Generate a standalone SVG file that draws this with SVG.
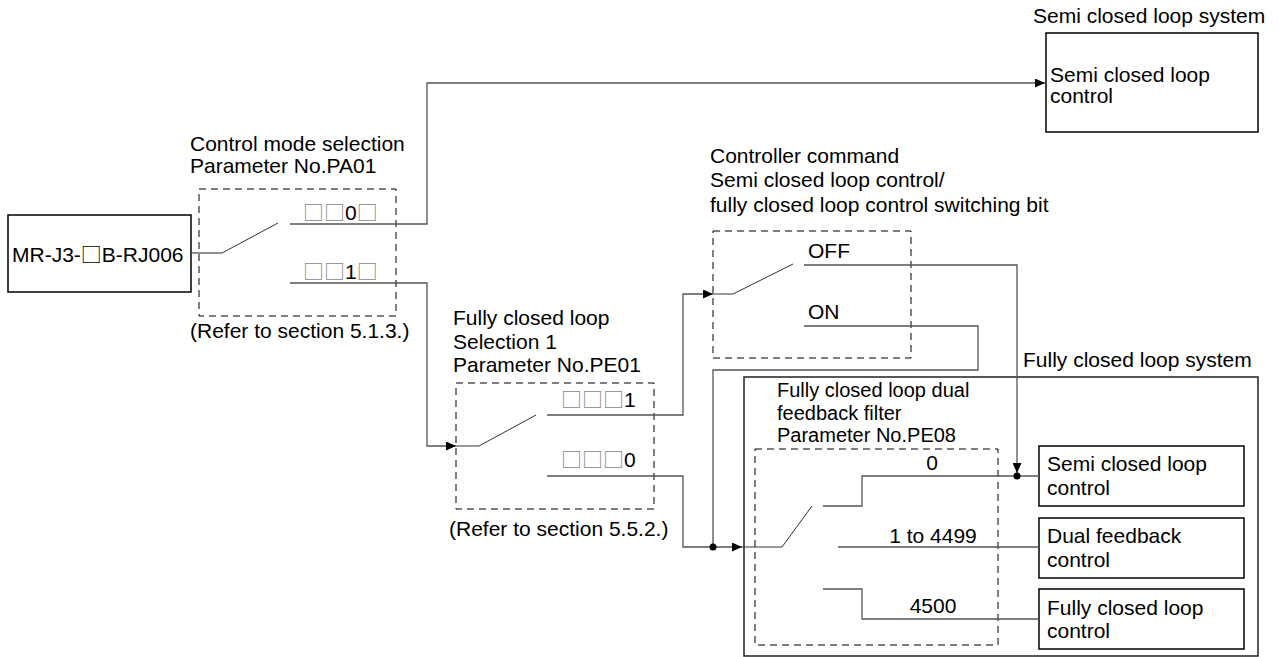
<svg xmlns="http://www.w3.org/2000/svg" width="1279" height="657" viewBox="0 0 1279 657">
<style>
text{font-family:"Liberation Sans",Arial,"Noto Sans CJK JP",sans-serif;font-size:21px;fill:#000}
.s20{font-size:20px}
.sq{font-family:"Noto Sans CJK JP","DejaVu Sans",sans-serif;fill:#888}
.sqk{font-family:"Noto Sans CJK JP","DejaVu Sans",sans-serif;fill:#000}
.box{fill:#fff;stroke:#000;stroke-width:1.5}
.dash{fill:none;stroke:#000;stroke-width:1;stroke-dasharray:7 5}
.ln{fill:none;stroke:#555;stroke-width:1.3}
.lv{fill:none;stroke:#333;stroke-width:1}
.mid{text-anchor:middle}
</style>
<defs>
<marker id="arr" markerUnits="userSpaceOnUse" markerWidth="11" markerHeight="9" refX="10" refY="4.5" orient="auto">
<path d="M0,0 L10,4.5 L0,9 z" fill="#000"/>
</marker>
</defs>
<rect width="1279" height="657" fill="#fff"/>

<g id="mr-j3">
<rect class="box" x="8" y="215" width="183" height="77"/>
<text x="12" y="262">MR-J3-<tspan class="sqk">□</tspan>B-RJ006</text>
</g>

<g id="pa01-switch">
<text x="190" y="151">Control mode selection</text>
<text x="190" y="173">Parameter No.PA01</text>
<rect class="dash" x="199" y="189" width="197" height="127"/>
<path class="lv" d="M222,253 L278,223"/>
<text x="303" y="220"><tspan class="sq">□□</tspan>0<tspan class="sq">□</tspan></text>
<text x="303" y="279"><tspan class="sq">□□</tspan>1<tspan class="sq">□</tspan></text>
<text x="190" y="338">(Refer to section 5.1.3.)</text>
</g>

<g id="pe01-switch">
<text x="453" y="325">Fully closed loop</text>
<text x="453" y="349">Selection 1</text>
<text x="453" y="372">Parameter No.PE01</text>
<rect class="dash" x="456" y="383" width="198" height="126"/>
<path class="lv" d="M456,446 H479 L536,415"/>
<text x="561" y="407"><tspan class="sq">□□□</tspan>1</text>
<text x="561" y="467"><tspan class="sq">□□□</tspan>0</text>
<text x="449" y="536">(Refer to section 5.5.2.)</text>
</g>

<g id="controller-switch">
<text x="710" y="163">Controller command</text>
<text x="710" y="187">Semi closed loop control/</text>
<text x="710" y="212">fully closed loop control switching bit</text>
<rect class="dash" x="713" y="231" width="198" height="127"/>
<path class="lv" d="M713,294 H733 L793,264"/>
<text x="808" y="258">OFF</text>
<text x="808" y="319">ON</text>
</g>

<g id="semi-system">
<text x="1033" y="23">Semi closed loop system</text>
<rect class="box" x="1046" y="33" width="212" height="99"/>
<text x="1050" y="82">Semi closed loop</text>
<text x="1050" y="103">control</text>
</g>

<g id="fully-system">
<text x="1023" y="367">Fully closed loop system</text>
<rect fill="none" stroke="#222" stroke-width="1.5" x="744" y="377" width="514" height="279"/>
</g>

<g id="pe08-switch">
<text class="s20" x="777" y="397">Fully closed loop dual</text>
<text class="s20" x="777" y="420">feedback filter</text>
<text class="s20" x="777" y="442">Parameter No.PE08</text>
<rect class="dash" x="755" y="449" width="243" height="196"/>
<path class="lv" d="M742,547 H782 L812,506"/>
<text class="mid" x="932" y="470">0</text>
<text class="mid" x="933" y="543">1 to 4499</text>
<text class="mid" x="933" y="613">4500</text>
</g>

<g id="box-semi">
<rect class="box" x="1039" y="446" width="205" height="60"/>
<text x="1047" y="471">Semi closed loop</text>
<text x="1047" y="495">control</text>
</g>

<g id="box-dual">
<rect class="box" x="1039" y="518" width="205" height="60"/>
<text x="1047" y="543">Dual feedback</text>
<text x="1047" y="567">control</text>
</g>

<g id="box-fully">
<rect class="box" x="1039" y="589" width="205" height="60"/>
<text x="1047" y="615">Fully closed loop</text>
<text x="1047" y="638">control</text>
</g>

<g id="connectors">
<path class="ln" d="M191,253 H222"/>
<path class="ln" d="M290,224 H427 V83 H1045" marker-end="url(#arr)"/>
<path class="ln" d="M290,283 H427 V446 H456" marker-end="url(#arr)"/>
<path class="ln" d="M547,415 H683 V294 H713" marker-end="url(#arr)"/>
<path class="ln" d="M547,476 H683 V547 H742" marker-end="url(#arr)"/>
<path class="ln" d="M804,265 H1017 V473" marker-end="url(#arr)"/>
<path class="ln" d="M804,326 H978 V370 H713 V547"/>
<path class="ln" d="M823,506 H862 V476 H1039"/>
<path class="ln" stroke="#000" d="M838,547 H1039"/>
<path class="ln" d="M823,589 H862 V619 H1039"/>
<circle cx="713" cy="547" r="3.5" fill="#000"/>
<circle cx="1017" cy="476" r="3.5" fill="#000"/>
</g>
</svg>
